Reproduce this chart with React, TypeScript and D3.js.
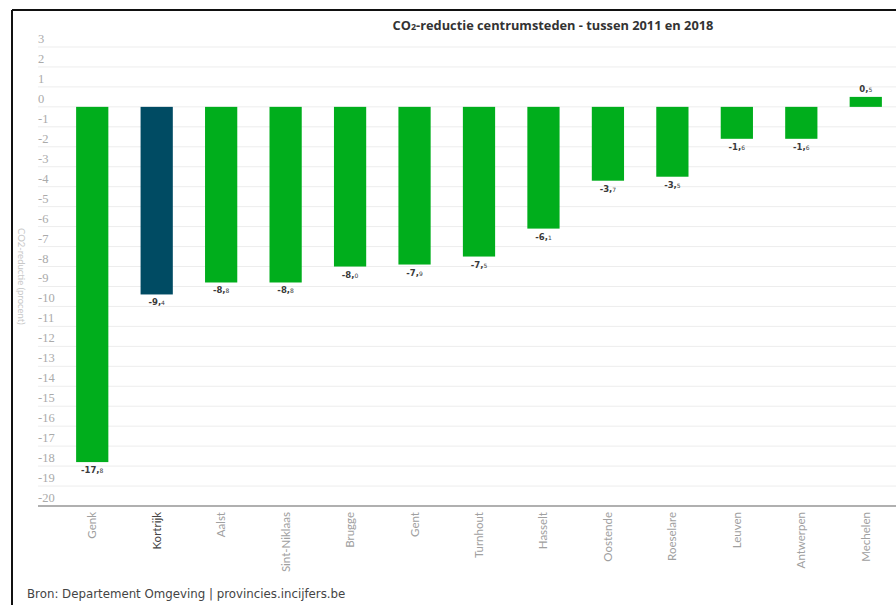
import React, { useEffect, useRef } from 'react';
import * as d3 from 'd3';

const cities = ['Genk', 'Kortrijk', 'Aalst', 'Sint-Niklaas', 'Brugge', 'Gent', 'Turnhout', 'Hasselt', 'Oostende', 'Roeselare', 'Leuven', 'Antwerpen', 'Mechelen'];
const reduction = [-17.8, -9.4, -8.8, -8.8, -8.0, -7.9, -7.5, -6.1, -3.7, -3.5, -1.6, -1.6, 0.5];
const highlight = 'Kortrijk';
const yTicks = d3.range(3, -21, -1);

const W = 896;
const H = 605;

const App = () => {
    const ref = useRef<SVGSVGElement | null>(null);

    useEffect(() => {
        const svg = d3.select(ref.current);
        svg.selectAll('*').remove();

        const x = d3.scaleBand<string>()
            .domain(cities)
            .range([60, 898])
            .paddingInner(0.5)
            .paddingOuter(0.25);

        const y = d3.scaleLinear().domain([-20, 3]).range([506, 47]);

        // frame
        svg.append('line').attr('x1', 12).attr('x2', 12).attr('y1', 10).attr('y2', H)
            .attr('stroke', '#111').attr('stroke-width', 2);
        svg.append('line').attr('x1', 12).attr('x2', W).attr('y1', 10).attr('y2', 10)
            .attr('stroke', '#111').attr('stroke-width', 2);

        // title
        const title = svg.append('text')
            .attr('x', 553).attr('y', 30)
            .attr('text-anchor', 'middle')
            .style('font-family', 'Open Sans')
            .style('font-weight', 'bold')
            .style('font-size', '12.8px')
            .attr('fill', '#333');
        title.append('tspan').text('CO');
        title.append('tspan').attr('font-size', '9px').text('2');
        title.append('tspan').text('-reductie centrumsteden - tussen 2011 en 2018');

        // grid + y labels
        const grid = svg.append('g');
        yTicks.forEach((t) => {
            if (t !== -20) {
                grid.append('line')
                    .attr('x1', 38).attr('x2', W)
                    .attr('y1', y(t)).attr('y2', y(t))
                    .attr('stroke', '#ededed').attr('stroke-width', 1);
            }
            grid.append('text')
                .attr('x', 38).attr('y', y(t) - 4)
                .style('font-family', 'Liberation Serif')
                .style('font-size', '12.5px')
                .attr('fill', '#aaaaaa')
                .text(t);
        });

        // y axis label
        svg.append('text')
            .attr('transform', `translate(18, 228) rotate(90)`)
            .style('font-family', 'Lato')
            .style('font-size', '9.5px')
            .attr('fill', '#c8c8c8')
            .text('CO2-reductie (procent)');

        // bars
        svg.selectAll('rect.bar')
            .data(cities)
            .enter()
            .append('rect')
            .attr('class', 'bar')
            .attr('x', d => x(d) as number)
            .attr('width', x.bandwidth())
            .attr('y', (d, i) => y(Math.max(0, reduction[i])))
            .attr('height', (d, i) => Math.abs(y(reduction[i]) - y(0)))
            .attr('fill', d => d === highlight ? '#004b63' : '#00ae1c');

        // value labels
        cities.forEach((c, i) => {
            const v = reduction[i];
            const parts = Math.abs(v).toFixed(1).split('.');
            const t = svg.append('text')
                .attr('x', (x(c) as number) + x.bandwidth() / 2)
                .attr('y', v < 0 ? y(v) + 11 : y(v) - 5)
                .attr('text-anchor', 'middle')
                .style('font-family', 'DejaVu Sans')
                .style('font-weight', 'bold')
                .style('font-size', '8.5px')
                .attr('fill', '#3a3a3a');
            t.append('tspan').text(`${v < 0 ? '-' : ''}${parts[0]},`);
            t.append('tspan').attr('font-size', '6px').attr('font-weight', 'normal').text(parts[1]);
        });

        // x axis line
        svg.append('line')
            .attr('x1', 38).attr('x2', W)
            .attr('y1', y(-20)).attr('y2', y(-20))
            .attr('stroke', '#b0b0b0').attr('stroke-width', 2);

        // x labels
        cities.forEach((c) => {
            const cx = (x(c) as number) + x.bandwidth() / 2;
            svg.append('text')
                .attr('transform', `translate(${cx + 4}, 512) rotate(-90)`)
                .attr('text-anchor', 'end')
                .style('font-family', 'Lato')
                .style('font-size', '11.5px')
                .attr('fill', c === highlight ? '#444' : '#a0a0a0')
                .text(c);
        });

        // source
        svg.append('text')
            .attr('x', 27).attr('y', 598)
            .style('font-family', 'DejaVu Sans')
            .style('font-size', '11.8px')
            .attr('fill', '#444')
            .text('Bron: Departement Omgeving | provincies.incijfers.be');
    }, []);

    return (
        <svg ref={ref} width={W} height={H}
            style={{ position: 'absolute', left: 0, top: 0, background: '#fff' }} />
    );
};

export default App;
